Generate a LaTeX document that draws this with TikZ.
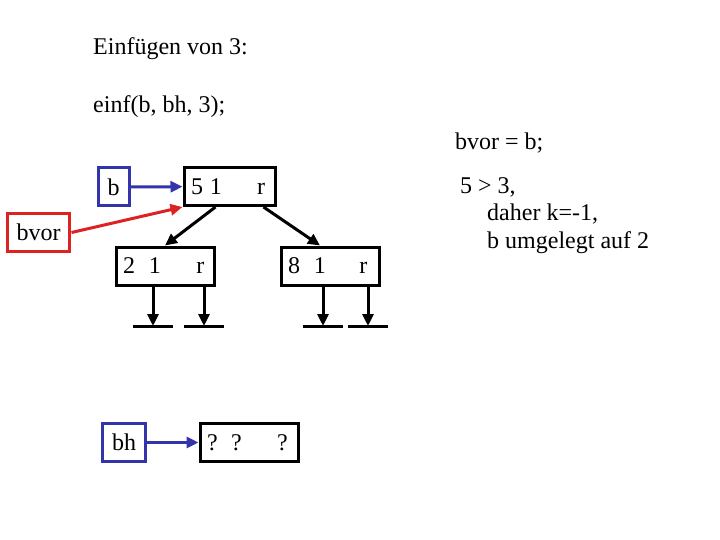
\documentclass[tikz,border=0pt]{standalone}
\usepackage{fontspec}
\setmainfont{Liberation Serif}
\usetikzlibrary{arrows.meta,positioning,calc}
\definecolor{PtrBlue}{HTML}{3333AA}
\definecolor{PtrRed}{HTML}{DD2222}

\begin{document}
\begin{tikzpicture}[x=1pt, y=-1pt, every node/.style={font=\fontsize{24}{29}\selectfont},
  rec/.style={draw, line width=3pt, minimum height=38pt, text width=#1, align=left, inner xsep=7pt, inner ysep=0pt},
  var/.style={draw=#1, line width=3pt, minimum height=38pt, inner xsep=9.5pt, inner ysep=0pt},
  txt/.style={anchor=base west, inner sep=0pt},
  arr/.style={-{Triangle[length=12pt,width=11pt]}, line width=3pt},
  grd/.style={line width=3pt}]
  \useasboundingbox (0,0) rectangle (720,540);
  % Texte
  \node[txt] (titel) at (93,55) {Einfügen von 3:};
  \node[txt] (aufruf) at (93,113) {einf(b, bh, 3);};
  \node[txt] (zuw) at (455,150) {bvor = b;};
  \node[txt] (vgl) at (460,194) {5 > 3,};
  \node[txt] (daher) at (487,221) {daher k=-1,};
  \node[txt] (umleg) at (487,248) {b umgelegt auf 2};
  % Knoten des Baums
  \node[rec=77pt] (top) at (229.5,186.5) {5\hspace{7pt}1\hspace{35pt}r};
  \node[rec=84pt] (left) at (165,266) {2\hspace{14pt}1\hspace{35.5pt}r};
  \node[rec=84pt] (right) at (330,266) {8\hspace{14pt}1\hspace{33.5pt}r};
  \node[rec=84pt] (neu) at (249,442.5) {?\hspace{13.6pt}?\hspace{35.3pt}?};
  % Zeigervariablen
  \node[var=PtrBlue] (b) at (113.5,187) {b};
  \node[var=PtrBlue] (bh) at (124,442.5) {bh};
  \node[var=PtrRed] (bvor) at (38.5,232.5) {bvor};
  \draw[arr,PtrBlue] (b) -- (top);
  \draw[arr,PtrBlue] (bh) -- (neu);
  \draw[arr,PtrRed] (bvor.east) -- (top.south west);
  \draw[arr] ($(top.south west)+(33,0)$) -- (left.north);
  \draw[arr] ($(top.south west)+(81,0)$) -- ($(right.north)+(-10,0)$);
  % leere Teilbaeume
  \coordinate (g1) at (153,326);
  \coordinate (g2) at (204,326);
  \coordinate (g3) at (323,326);
  \coordinate (g4) at (368,326);
  \foreach \n/\g in {left/g1, left/g2, right/g3, right/g4} {
    \draw[arr] (\n.south -| \g) -- (\g);
    \draw[grd] ($(\g)+(-20,0)$) -- ($(\g)+(20,0)$);
  }
\end{tikzpicture}
\end{document}
